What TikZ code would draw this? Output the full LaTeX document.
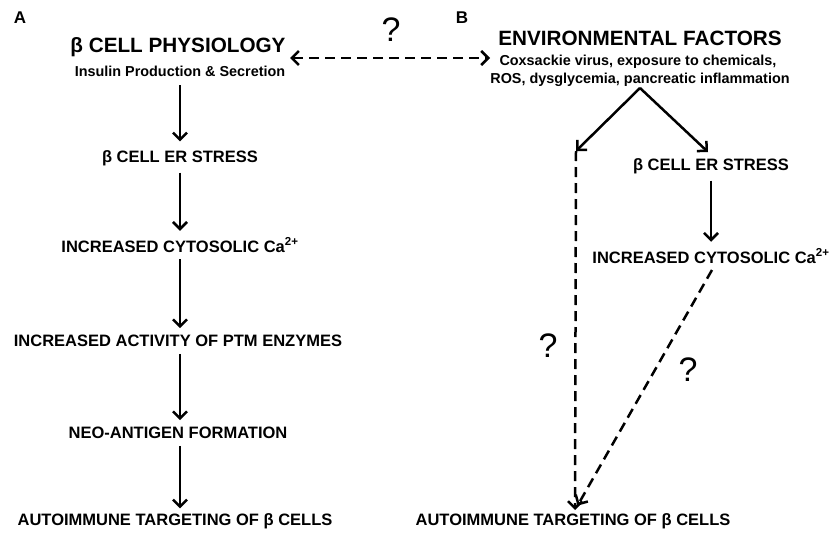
\documentclass[tikz,border=0pt]{standalone}
\usepackage{fontspec}
\setmainfont{Liberation Sans}
\usepackage{tikz}
\usetikzlibrary{arrows,arrows.meta}
\usetikzlibrary{positioning}
\usetikzlibrary{calc}

\newcommand{\stepfont}{\fontsize{16.5}{18}\selectfont\bfseries}
\newcommand{\headfont}{\fontsize{20.7}{23}\selectfont\bfseries}
\newcommand{\subfont}{\fontsize{14.4}{16}\selectfont\bfseries}
\newcommand{\qfont}{\fontsize{34}{36}\selectfont}

\begin{document}
\begin{tikzpicture}[x=1pt,y=-1pt]
			\tikzstyle{every node}=[inner sep=0pt,outer sep=0pt,text=black]
			\tikzstyle{stepbox}=[font=\stepfont]
			\tikzstyle{flow}=[->,line width=2.5pt,>={Straight Barb[length=7pt,width=14pt]},shorten <=7pt,shorten >=7pt]
			\tikzstyle{maybe}=[->,line width=2.5pt,>={Straight Barb[length=7pt,width=14pt]},dash pattern=on 10pt off 6pt]
			\useasboundingbox (0,0) rectangle (831,533);

			% panel A
			\node (pa) [font=\fontsize{17}{19}\selectfont\bfseries] at (20,18) {A};
			\node (phys) [font=\headfont] at (178,47) {β CELL PHYSIOLOGY};
			\node (ins) [font=\subfont] at (180,71) {Insulin Production \& Secretion};
			\node (erA) [stepbox] at (180,158) {β CELL ER STRESS};
			\node (caA) [stepbox] at (180,245) {INCREASED CYTOSOLIC Ca\textsuperscript{2+}};
			\node (ptm) [stepbox] at (178,341) {INCREASED ACTIVITY OF PTM ENZYMES};
			\node (neo) [stepbox] at (178,433) {NEO-ANTIGEN FORMATION};
			\node (autoA) [stepbox] at (175,521) {AUTOIMMUNE TARGETING OF β CELLS};

			% panel B
			\node (pb) [font=\fontsize{17}{19}\selectfont\bfseries] at (462,18) {B};
			\node (env) [font=\headfont] at (640,38) {ENVIRONMENTAL FACTORS};
			\node (cox) [font=\subfont] at (638,62) {Coxsackie virus, exposure to chemicals,};
			\node (ros) [font=\subfont] at (640,80) {ROS, dysglycemia, pancreatic inflammation};
			\node (erB) [stepbox] at (711,166) {β CELL ER STRESS};
			\node (caB) [stepbox] at (711,256) {INCREASED CYTOSOLIC Ca\textsuperscript{2+}};
			\node (autoB) [stepbox] at (573,521) {AUTOIMMUNE TARGETING OF β CELLS};

			\coordinate (apex) at (640,88);
			\coordinate (split) at (576,151);
			\coordinate (turn) at (708,152);
			\coordinate (hit) at (575,510);
			\coordinate (crest) at (712,270);
			\coordinate (west) at (290,58);
			\coordinate (east) at (490,58);
			\coordinate (spine) at (180,0);

			% question marks
			\node (q1) [font=\qfont] at (391,30) {?};
			\node (q2) [font=\qfont] at (548,346) {?};
			\node (q3) [font=\qfont] at (688,370) {?};

			% arrows, left column
			\draw[flow,shorten <=9pt,shorten >=9pt] (ins.south -| spine) -- (erA.north -| spine);
			\draw[flow] (erA.south -| spine) -- (caA.north -| spine);
			\draw[flow] (caA.south -| spine) -- (ptm.north -| spine);
			\draw[flow] (ptm.south -| spine) -- (neo.north -| spine);
			\draw[flow,shorten >=5pt] (neo.south -| spine) -- (autoA.north -| spine);

			% arrows, right column
			\draw[flow,shorten <=0pt,shorten >=0pt] (apex) -- (split);
			\draw[flow,shorten <=0pt,shorten >=0pt] (apex) -- (turn);
			\draw[flow] (erB) -- (caB);
			\draw[maybe] (split) -- (hit);
			\draw[maybe,shorten >=5pt] (crest) -- (hit);

			% unknown link between the two panels
			\draw[maybe,<->] (west) -- (east);
\end{tikzpicture}
\end{document}
